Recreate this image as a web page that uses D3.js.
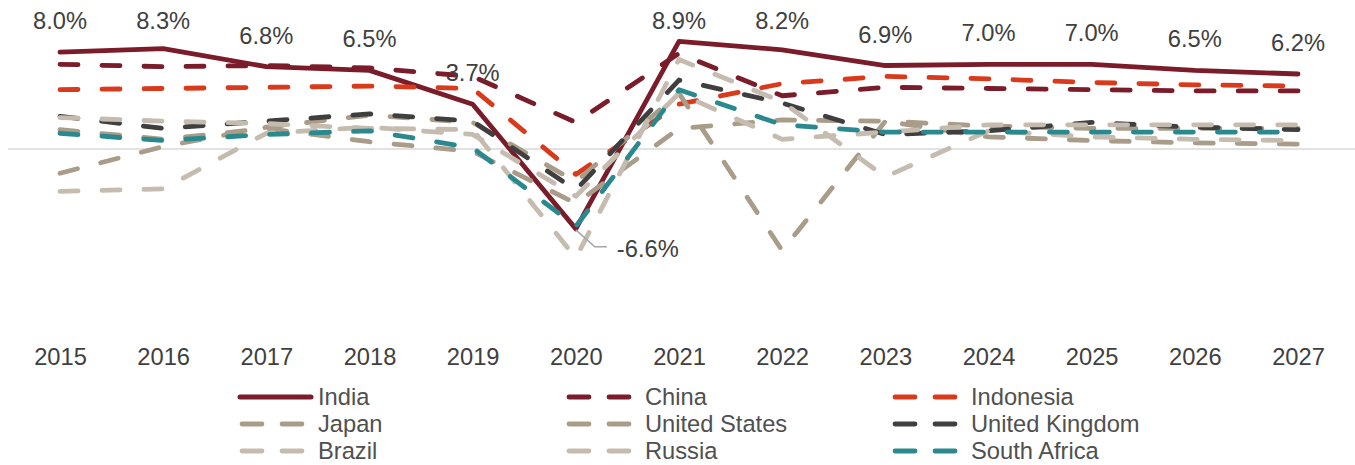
<!DOCTYPE html>
<html>
<head>
<meta charset="utf-8">
<script src="https://cdn.jsdelivr.net/npm/d3@7"></script>
<style>
  html, body { margin: 0; padding: 0; background: #fff; }
  svg { display: block; font-family: "Liberation Sans", Arial, sans-serif; }
</style>
</head>
<body>
<svg id="chart" width="1355" height="465"></svg>
<script>
// ---- data ----
const years = ["2015","2016","2017","2018","2019","2020","2021","2022","2023","2024","2025","2026","2027"];
const india        = [8.0, 8.3, 6.8, 6.5, 3.7, -6.6, 8.9, 8.2, 6.9, 7.0, 7.0, 6.5, 6.2];
const china        = [7.0, 6.8, 6.9, 6.7, 6.0, 2.2, 7.9, 4.4, 5.1, 5.0, 4.9, 4.8, 4.8];
const indonesia    = [4.9, 5.0, 5.1, 5.2, 5.0, -2.1, 3.7, 5.4, 6.0, 5.8, 5.5, 5.3, 5.2];
const japan        = [1.6, 0.8, 1.7, 0.6, -0.2, -4.5, 1.7, 2.4, 2.3, 1.0, 0.7, 0.5, 0.4];
const unitedStates = [-2.0, 0.2, 1.8, 2.8, 2.2, -2.7, 4.6, -8.4, 2.3, 1.9, 1.7, 1.7, 1.7];
const unitedKingdom= [2.7, 1.7, 2.3, 2.9, 2.3, -3.4, 5.7, 3.8, 1.2, 1.5, 2.2, 1.8, 1.6];
const brazil       = [-3.5, -3.3, 1.3, 1.8, 1.2, -3.9, 4.6, 0.8, 1.4, 2.0, 2.0, 2.0, 2.0];
const russia       = [2.6, 2.3, 2.1, 1.7, 1.6, -9.0, 7.4, 3.9, -2.3, 1.5, 1.0, 0.8, 0.7];
const southAfrica  = [1.3, 0.7, 1.2, 1.5, 0.1, -6.4, 4.9, 2.0, 1.4, 1.4, 1.4, 1.4, 1.4];
const seriesNames  = ["India","China","Indonesia","Japan","United States","United Kingdom","Brazil","Russia","South Africa"];
const indiaLabels  = ["8.0%","8.3%","6.8%","6.5%","3.7%","-6.6%","8.9%","8.2%","6.9%","7.0%","7.0%","6.5%","6.2%"];

// ---- styles ----
const seriesColors = ["#7B1C2A","#7B1C2A","#D93A1B","#A99C88","#A99C88","#3F3F3F","#C5BCAF","#C5BCAF","#2A898E"];
const seriesDashed = [false,true,true,true,true,true,true,true,true];

const allValues = [india, china, indonesia, japan, unitedStates, unitedKingdom, brazil, russia, southAfrica];
const series = seriesNames.map((n, i) => ({name: n, values: allValues[i], color: seriesColors[i], dashed: seriesDashed[i]}));

const svg = d3.select("#chart");
const x = d3.scalePoint().domain(years).range([60, 1298]);
const y = d3.scaleLinear().domain([-15, 10]).range([330.5, 28]);

// zero line
svg.append("line")
  .attr("x1", 8).attr("x2", 1355)
  .attr("y1", y(0)).attr("y2", y(0))
  .attr("stroke", "#D9D9D9").attr("stroke-width", 1.5);

// lines
const line = d3.line().x((d, i) => x(years[i])).y(d => y(d));
const g = svg.append("g");
series.forEach(s => {
  g.append("path")
    .datum(s.values)
    .attr("d", line)
    .attr("fill", "none")
    .attr("stroke", s.color)
    .attr("stroke-width", 4.8)
    .attr("stroke-linecap", "round")
    .attr("stroke-linejoin", "round")
    .attr("stroke-dasharray", s.dashed ? "18 24" : null);
});

// x axis
const xAxis = svg.append("g")
  .attr("transform", "translate(0,340)")
  .call(d3.axisBottom(x).tickSize(0).tickPadding(8));
xAxis.select(".domain").remove();
xAxis.selectAll("text")
  .attr("font-size", "23.7px")
  .attr("font-family", "'Liberation Sans', Arial, sans-serif")
  .attr("fill", "#404040");

// India data labels
const labels = svg.append("g");
india.forEach((v, i) => {
  const px = x(years[i]), py = y(v);
  if (v < 0) {
    labels.append("polyline")
      .attr("points", `${px},${py+1} ${px+19},${py+18} ${px+31},${py+18}`)
      .attr("fill", "none").attr("stroke", "#A6A6A6").attr("stroke-width", 1.5);
    labels.append("text")
      .attr("x", px + 41).attr("y", py + 20)
      .attr("dominant-baseline", "central")
      .attr("font-size", "23.7px").attr("fill", "#404040")
      .text(indiaLabels[i]);
  } else {
    labels.append("text")
      .attr("x", px).attr("y", Math.max(py - 31, 21))
      .attr("text-anchor", "middle")
      .attr("dominant-baseline", "central")
      .attr("font-size", "23.7px").attr("fill", "#404040")
      .text(indiaLabels[i]);
  }
});

// legend
const colX = [240, 567, 893];
const rowY = [397, 424, 451];
const leg = svg.append("g");
series.forEach((s, i) => {
  const cx = colX[i % 3], cy = rowY[Math.floor(i / 3)];
  if (s.dashed) {
    leg.append("line")
      .attr("x1", cx + 2).attr("x2", cx + 64)
      .attr("y1", cy).attr("y2", cy)
      .attr("stroke", s.color).attr("stroke-width", 4.8)
      .attr("stroke-linecap", "round")
      .attr("stroke-dasharray", "20 20");
  } else {
    leg.append("line")
      .attr("x1", cx).attr("x2", cx + 71)
      .attr("y1", cy).attr("y2", cy)
      .attr("stroke", s.color).attr("stroke-width", 5)
      .attr("stroke-linecap", "round");
  }
  leg.append("text")
    .attr("x", cx + 78).attr("y", cy)
    .attr("dominant-baseline", "central")
    .attr("font-size", "23.7px").attr("fill", "#505050")
    .text(s.name);
});
</script>
</body>
</html>
